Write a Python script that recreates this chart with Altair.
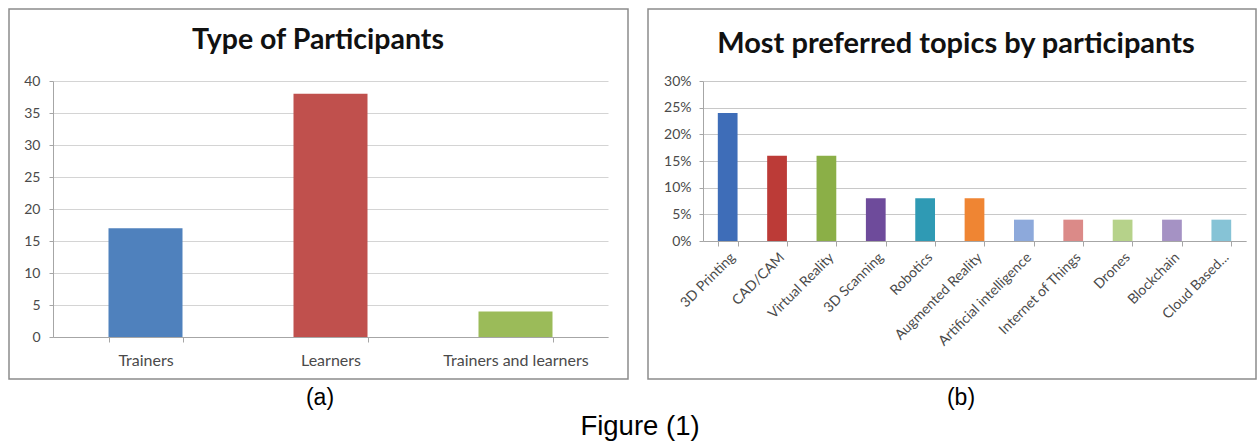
import altair as alt
import pandas as pd

# ---- data ----
types = ["Trainers", "Learners", "Trainers and learners"]
type_counts = [17, 38, 4]
type_colors = ["#4F81BD", "#C0504D", "#9BBB59"]

topics = ["3D Printing", "CAD/CAM", "Virtual Reality", "3D Scanning", "Robotics",
          "Augmented Reality", "Artificial intelligence", "Internet of Things",
          "Drones", "Blockchain", "Cloud Based..."]
topic_share = [0.24, 0.16, 0.16, 0.08, 0.08, 0.08, 0.04, 0.04, 0.04, 0.04, 0.04]
topic_colors = ["#3E6DB8", "#BC3B37", "#8BAF47", "#6E4B9B", "#2F9AB4", "#EF8533",
                "#8DA9DB", "#DB8A88", "#B6D28A", "#A592C4", "#86C3D6"]

left_title = ["Type of Participants"]
right_title = ["Most preferred topics by participants"]
captions = ["(a)", "(b)", "Figure (1)"]
y_left_ticks = [0, 5, 10, 15, 20, 25, 30, 35, 40]
y_right_ticks = [0, 0.05, 0.10, 0.15, 0.20, 0.25, 0.30]

FONT = "Lato"
GRID = "#D4D4D4"
DOMAIN = "#A6A6A6"
LABEL = "#4A4A4A"

df_left = pd.DataFrame({"type": types, "count": type_counts})
df_right = pd.DataFrame({"topic": topics, "share": topic_share})

LW, LH = 555, 256
RW, RH = 543, 160


def one(text):
    return alt.Chart(pd.DataFrame({"t": [text]}))


# ---- left panel ----
left_bars = alt.Chart(df_left).mark_bar().encode(
    x=alt.X("type:N", sort=types, title=None,
            scale=alt.Scale(paddingInner=0.6, paddingOuter=0.3),
            axis=alt.Axis(labelAngle=0, tickBand="extent", tickSize=5,
                          tickColor=DOMAIN, domainColor=DOMAIN, labelPadding=10,
                          labelFontSize=16, labelColor=LABEL, labelFont=FONT, grid=False)),
    y=alt.Y("count:Q", title=None, scale=alt.Scale(domain=[0, 40], nice=False),
            axis=alt.Axis(values=y_left_ticks, tickSize=4, tickColor=DOMAIN,
                          domainColor=DOMAIN, gridColor=GRID, labelPadding=9,
                          labelFontSize=14, labelColor=LABEL, labelFont=FONT)),
    color=alt.Color("type:N", scale=alt.Scale(domain=types, range=type_colors), legend=None),
)

left_frame = one("f").mark_rect(fill=None, stroke="#8C8C8C", strokeWidth=1.5).encode(
    x=alt.value(-44), x2=alt.value(575), y=alt.value(-72), y2=alt.value(298))

left_tt = one(left_title[0]).mark_text(font=FONT, fontWeight="bold", fontSize=28.5,
                                       baseline="alphabetic", color="#111111").encode(
    text="t:N", x=alt.value(265), y=alt.value(-32))

cap_a = one(captions[0]).mark_text(font="Liberation Sans", fontSize=23,
                                   baseline="middle", color="#000000").encode(
    text="t:N", x=alt.value(267), y=alt.value(317))

cap_fig = one(captions[2]).mark_text(font="Liberation Sans", fontSize=27.5,
                                     baseline="middle", color="#000000").encode(
    text="t:N", x=alt.value(587), y=alt.value(346))

left = alt.layer(left_bars, left_frame, left_tt, cap_a, cap_fig).properties(width=LW, height=LH)

# ---- right panel ----
right_bars = alt.Chart(df_right).mark_bar().encode(
    x=alt.X("topic:N", sort=topics, title=None,
            scale=alt.Scale(paddingInner=0.6, paddingOuter=0.3),
            axis=alt.Axis(labelAngle=-45, tickBand="extent", tickSize=5,
                          tickColor=DOMAIN, domainColor=DOMAIN, labelPadding=4,
                          labelFontSize=14, labelColor=LABEL, labelFont=FONT, grid=False)),
    y=alt.Y("share:Q", title=None, scale=alt.Scale(domain=[0, 0.30], nice=False),
            axis=alt.Axis(values=y_right_ticks, format=".0%", tickSize=4, tickColor=DOMAIN,
                          domainColor=DOMAIN, gridColor="#C8C8C8", labelPadding=8,
                          labelFontSize=14, labelColor=LABEL, labelFont=FONT)),
    color=alt.Color("topic:N", scale=alt.Scale(domain=topics, range=topic_colors), legend=None),
)

right_frame = one("f").mark_rect(fill=None, stroke="#8C8C8C", strokeWidth=1.5).encode(
    x=alt.value(-55), x2=alt.value(553), y=alt.value(-72), y2=alt.value(298))

right_tt = one(right_title[0]).mark_text(font=FONT, fontWeight="bold", fontSize=29,
                                         baseline="alphabetic", color="#111111").encode(
    text="t:N", x=alt.value(253), y=alt.value(-28))

cap_b = one(captions[1]).mark_text(font="Liberation Sans", fontSize=23,
                                   baseline="middle", color="#000000").encode(
    text="t:N", x=alt.value(258), y=alt.value(317))

right = alt.layer(right_bars, right_frame, right_tt, cap_b).properties(width=RW, height=RH)

chart = alt.hconcat(left, right, spacing=95, bounds="flush").resolve_scale(
    color="independent"
).properties(
    padding={"left": 8, "top": 8, "right": 0, "bottom": 0},
    background="white",
).configure_view(stroke=None)

chart.save("out.html", embed_options={"renderer": "svg", "actions": False})
